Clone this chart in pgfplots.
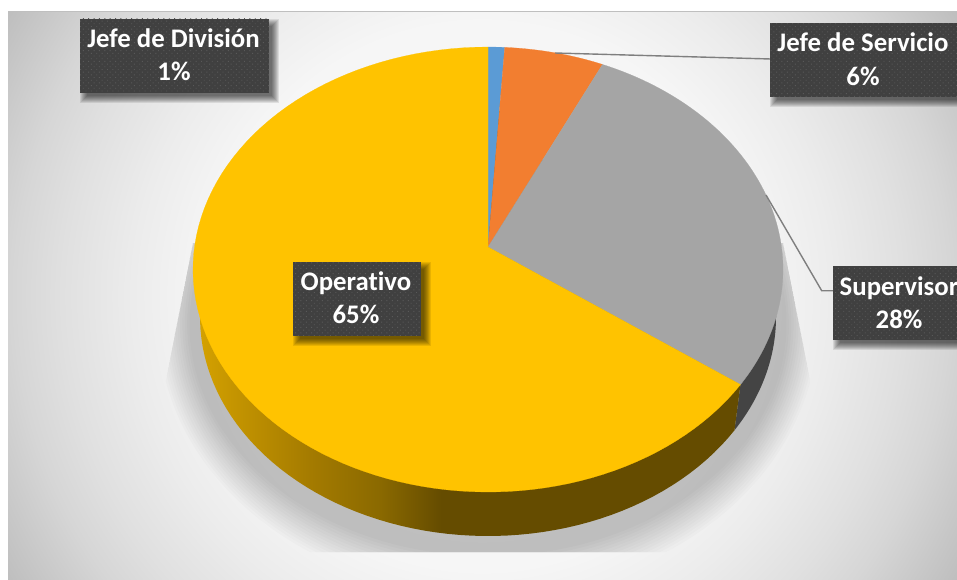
\documentclass[border=0pt]{standalone}
\usepackage{fontspec}
\setmainfont{Carlito}[Ligatures=NoCommon]
\usepackage{pgfplots}
\usepackage{pgfplotstable}
\pgfplotsset{compat=1.18}
\usetikzlibrary{patterns.meta}

% Share of staff per category, in percent, clockwise from the top of the pie
\pgfplotstableread{
share
1
6
28
65
}\sharetable

\definecolor{bgA}{HTML}{FBFBFB}
\definecolor{bgB}{HTML}{F6F6F6}
\definecolor{bgC}{HTML}{ECECEC}
\definecolor{bgD}{HTML}{E0E0E0}
\definecolor{bgE}{HTML}{D6D6D6}
\definecolor{bgF}{HTML}{BEBEBE}
\definecolor{sliceBlue}{HTML}{5B9BD5}
\definecolor{sliceOrange}{HTML}{F27E30}
\definecolor{sliceGray}{HTML}{A5A5A5}
\definecolor{sliceYellow}{HTML}{FFC300}
\definecolor{wallGray}{HTML}{444444}
\definecolor{wallA}{HTML}{D4A100}
\definecolor{wallB}{HTML}{C69600}
\definecolor{wallC}{HTML}{A37A00}
\definecolor{wallD}{HTML}{8A6900}
\definecolor{wallE}{HTML}{654C00}
\definecolor{boxFill}{HTML}{404040}
\definecolor{boxDot}{HTML}{595959}
\definecolor{leader}{HTML}{7F7F7F}

% tikz fits a path's bounding box to the central 50bp square of a shading
\pgfdeclareradialshading{chartback}{\pgfpoint{0bp}{0bp}}{%
  color(0bp)=(bgA); color(12.2bp)=(bgB); color(15.6bp)=(bgC);
  color(18.75bp)=(bgD); color(20.9bp)=(bgE); color(24.7bp)=(bgF); color(50bp)=(bgF)}
\pgfdeclarehorizontalshading{yellowwall}{100bp}{%
  color(0bp)=(wallA); color(25bp)=(wallA); color(27.7bp)=(wallB); color(35.5bp)=(wallC);
  color(41.7bp)=(wallD); color(47.3bp)=(wallE); color(100bp)=(wallE)}

% Position on the rim for a cumulated percentage (the pie is seen in perspective)
\pgfmathdeclarefunction{rimangle}{1}{\pgfmathparse{2*atan(0.9035*tan(1.8*#1))}}

\pgfplotstablegetelem{0}{share}\of\sharetable\let\shareA\pgfplotsretval
\pgfplotstablegetelem{1}{share}\of\sharetable\let\shareB\pgfplotsretval
\pgfplotstablegetelem{2}{share}\of\sharetable\let\shareC\pgfplotsretval
\pgfmathsetmacro\tA{rimangle(\shareA)}
\pgfmathsetmacro\tB{rimangle(\shareA+\shareB)}
\pgfmathsetmacro\tC{rimangle(\shareA+\shareB+\shareC)}
\pgfmathsetmacro\rimCx{488+295*sin(\tC)}
\pgfmathsetmacro\rimCy{269.5-222.5*cos(\tC)}

% #1 path options, #2 first angle, #3 last angle, #4 #5 apex, #6 #7 ellipse centre, #8 #9 radii
\newcommand\piewedge[9]{%
  \pgfmathsetmacro\wstep{(#3-#2)/100}%
  \addplot[#1, domain={#2-\wstep}:#3, samples=102, variable=\t]
    ({(\t<#2-0.5*\wstep) ? #4 : (#6+#8*sin(\t))},
     {(\t<#2-0.5*\wstep) ? #5 : (#7-#9*cos(\t))}) -- cycle;%
}

% Dark dotted label box with a soft shadow; lines are set on given baselines
\newcommand\databox[9]{%
  \foreach \e in {5,4,3,2,1,0,-1,-2}{
    \fill[black,opacity=0.09] ({#1+5-\e},{#2+5-\e}) rectangle ({#3+5+\e},{#4+5+\e});
  }
  \fill[boxFill] (#1,#2) rectangle (#3,#4);
  \fill[pattern={Dots[radius=0.65pt,distance=3.8pt,angle=45]},pattern color=boxDot] (#1,#2) rectangle (#3,#4);
  \node[anchor=base,text=white,font=\fontsize{26.8}{30}\selectfont\bfseries,inner sep=0pt] at (#5,#6) {#7};
  \node[anchor=base,text=white,font=\fontsize{26.8}{30}\selectfont\bfseries,inner sep=0pt] at (#8,#9) {\labelpct};
}

\begin{document}
\begin{tikzpicture}[x=1pt,y=-1pt]
  \useasboundingbox (0,0) rectangle (957,580);
  \clip (0,0) rectangle (957,580);
  \fill[white] (0,0) rectangle (957,580);

  % chart area with its round gradient
  \begin{scope}
    \clip (8,12) rectangle (957,580);
    \shade[shading=chartback] (482,296) circle[radius=560];
    % soft shadow cast by the pie, cut off by its frame
    \clip (193,243) -- (783,243) -- (844,552) -- (132,552) -- cycle;
    \foreach \e in {52,49,46,43,40,37,34,31,28,25,22,19,16,13}{
      \fill[black,opacity=0.017] (488,324) ellipse[x radius={288+0.8*\e},y radius={219+\e}];
    }
  \end{scope}
  \draw[color=black!25,line width=1pt] (8,12) -- (957,12);

  \begin{axis}[
      at={(0pt,0pt)}, anchor=north west,
      x=1pt, y=1pt, y dir=reverse,
      xmin=0, xmax=957, ymin=0, ymax=580,
      hide axis, clip=false]
    % side wall
    \piewedge{fill=wallGray,draw=none}{50}{\tC}{\rimCx}{\rimCy}{488}{317}{288}{219}
    \piewedge{draw=none,shade,shading=yellowwall}{\tC}{360}{\rimCx}{\rimCy}{488}{317}{288}{219}
    % top face
    \piewedge{fill=sliceBlue,draw=sliceBlue,line width=0.2pt}{0}{\tA}{488}{247}{488}{269.5}{295}{222.5}
    \piewedge{fill=sliceOrange,draw=sliceOrange,line width=0.2pt}{\tA}{\tB}{488}{247}{488}{269.5}{295}{222.5}
    \piewedge{fill=sliceGray,draw=sliceGray,line width=0.2pt}{\tB}{\tC}{488}{247}{488}{269.5}{295}{222.5}
    \piewedge{fill=sliceYellow,draw=sliceYellow,line width=0.2pt}{\tC}{360}{488}{247}{488}{269.5}{295}{222.5}
    % leader lines
    \addplot[leader,line width=1.4pt] coordinates {(555,53) (771,59)};
    \addplot[leader,line width=1.4pt] coordinates {(766,195) (821.7,290.7) (833,290.7)};
  \end{axis}

  \def\labelpct{1\%}
  \databox{80}{19}{269}{92.7}{173.5}{48}{Jefe de División}{174}{81}
  \def\labelpct{6\%}
  \databox{770}{22.7}{970}{96.7}{863}{52}{Jefe de Servicio}{863}{86}
  \def\labelpct{28\%}
  \databox{833}{266}{970}{339.7}{899}{295.7}{Supervisor}{899}{328}
  \def\labelpct{65\%}
  \databox{293}{262}{420.7}{335.7}{356}{290.7}{Operativo}{356}{323.7}
\end{tikzpicture}
\end{document}
